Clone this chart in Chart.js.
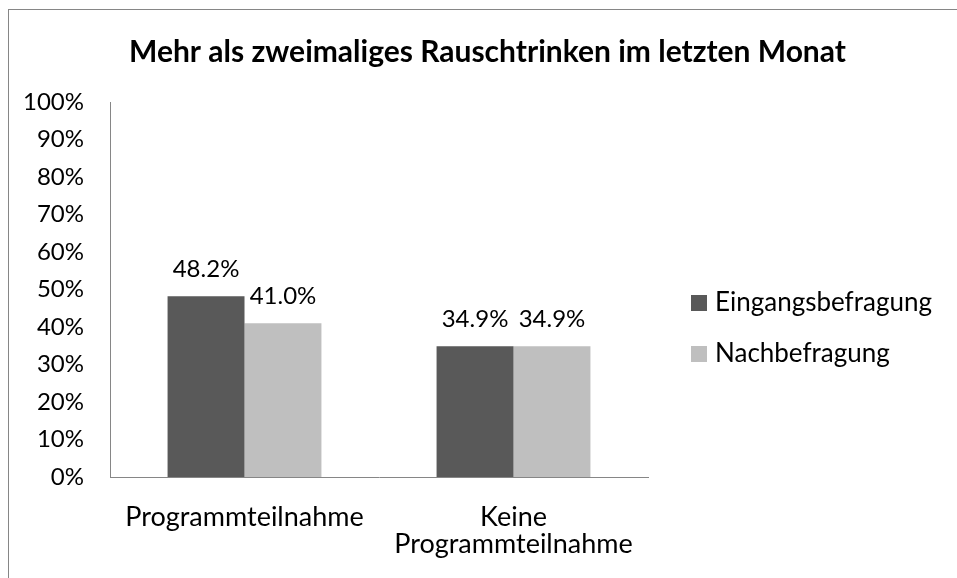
<!DOCTYPE html>
<html lang="de">
<head>
  <meta charset="UTF-8">
  <title>Mehr als zweimaliges Rauschtrinken im letzten Monat</title>
  <script src="https://cdn.jsdelivr.net/npm/chart.js"></script>
  <style>
    html, body {
      margin: 0;
      padding: 0;
      background: #ffffff;
      overflow: hidden;
    }
    #frame {
      position: absolute;
      left: 8px;
      top: 9px;
      width: 1200px;
      height: 800px;
      border-left: 1px solid #868686;
      border-top: 1px solid #868686;
    }
    #chart {
      position: absolute;
      left: 0;
      top: 0;
    }
  </style>
</head>
<body>
  <div id="frame"></div>
  <canvas id="chart" width="957" height="578"></canvas>

  <script>
    // Daten
    const categories = ['Programmteilnahme', ['Keine', 'Programmteilnahme']];
    const seriesNames = ['Eingangsbefragung', 'Nachbefragung'];
    const eingangsbefragung = [48.2, 34.9];
    const nachbefragung = [41.0, 34.9];
    const yTicks = [0, 10, 20, 30, 40, 50, 60, 70, 80, 90, 100];

    const FONT = 'Lato, "Open Sans", sans-serif';
    const colors = ['#595959', '#bfbfbf'];

    // Werte über den Balken
    const valueLabels = {
      id: 'valueLabels',
      afterDatasetsDraw(chart) {
        const ctx = chart.ctx;
        ctx.save();
        ctx.font = '24px ' + FONT;
        ctx.fillStyle = '#000000';
        ctx.textAlign = 'center';
        ctx.textBaseline = 'alphabetic';
        chart.data.datasets.forEach((ds, i) => {
          chart.getDatasetMeta(i).data.forEach((bar, j) => {
            ctx.fillText(ds.data[j].toFixed(1) + '%', bar.x, bar.y - 19);
          });
        });
        ctx.restore();
      }
    };

    // Legende rechts neben dem Diagramm (wie in Excel)
    const sideLegend = {
      id: 'sideLegend',
      afterDraw(chart) {
        const ctx = chart.ctx;
        const area = chart.chartArea;
        const x = area.right + 43;
        ctx.save();
        ctx.font = '26px ' + FONT;
        ctx.textAlign = 'left';
        ctx.textBaseline = 'alphabetic';
        chart.data.datasets.forEach((ds, i) => {
          const cy = area.top + 201 + i * 51;
          ctx.fillStyle = ds.backgroundColor;
          ctx.fillRect(x, cy - 8, 16, 16);
          ctx.fillStyle = '#000000';
          ctx.fillText(ds.label, x + 24, cy + 8);
        });
        ctx.restore();
      }
    };

    function draw() {
      new Chart(document.getElementById('chart'), {
        type: 'bar',
        data: {
          labels: categories,
          datasets: [{
            label: seriesNames[0],
            data: eingangsbefragung,
            backgroundColor: colors[0],
            borderWidth: 0
          }, {
            label: seriesNames[1],
            data: nachbefragung,
            backgroundColor: colors[1],
            borderWidth: 0
          }]
        },
        plugins: [valueLabels, sideLegend],
        options: {
          responsive: false,
          animation: false,
          events: [],
          datasets: {
            bar: {
              barPercentage: 1.0,
              categoryPercentage: 0.572
            }
          },
          layout: {
            padding: { left: 18, right: 0, top: 0, bottom: 0 }
          },
          plugins: {
            title: {
              display: true,
              text: 'Mehr als zweimaliges Rauschtrinken im letzten Monat',
              color: '#000000',
              font: { family: FONT, size: 30, weight: 'bold', lineHeight: 1.2 },
              padding: { top: 34, bottom: 32 }
            },
            legend: { display: false },
            tooltip: { enabled: false }
          },
          scales: {
            x: {
              grid: { display: false, drawTicks: false },
              border: { display: true, color: '#868686', width: 1 },
              ticks: {
                color: '#000000',
                font: { family: FONT, size: 27, lineHeight: 1.025 },
                padding: 26,
                maxRotation: 0
              },
              afterFit(scale) { scale.height = 101; }
            },
            y: {
              min: 0,
              max: 100,
              afterBuildTicks(scale) {
                scale.ticks = yTicks.map(v => ({ value: v }));
              },
              grid: { display: false, drawTicks: false },
              border: { display: true, color: '#868686', width: 1 },
              ticks: {
                color: '#000000',
                font: { family: FONT, size: 24 },
                padding: 26,
                callback: v => v + '%'
              },
              afterFit(scale) { scale.width = 92; }
            },
            // Platzhalter rechts für die Legende
            legendSpace: {
              type: 'linear',
              position: 'right',
              display: true,
              grid: { display: false, drawTicks: false },
              border: { display: false },
              ticks: { display: false },
              afterFit(scale) { scale.width = 309; }
            }
          }
        }
      });
    }

    Promise.all([
      document.fonts.load('24px Lato'),
      document.fonts.load('bold 30px Lato')
    ]).then(draw, draw);
  </script>
</body>
</html>
